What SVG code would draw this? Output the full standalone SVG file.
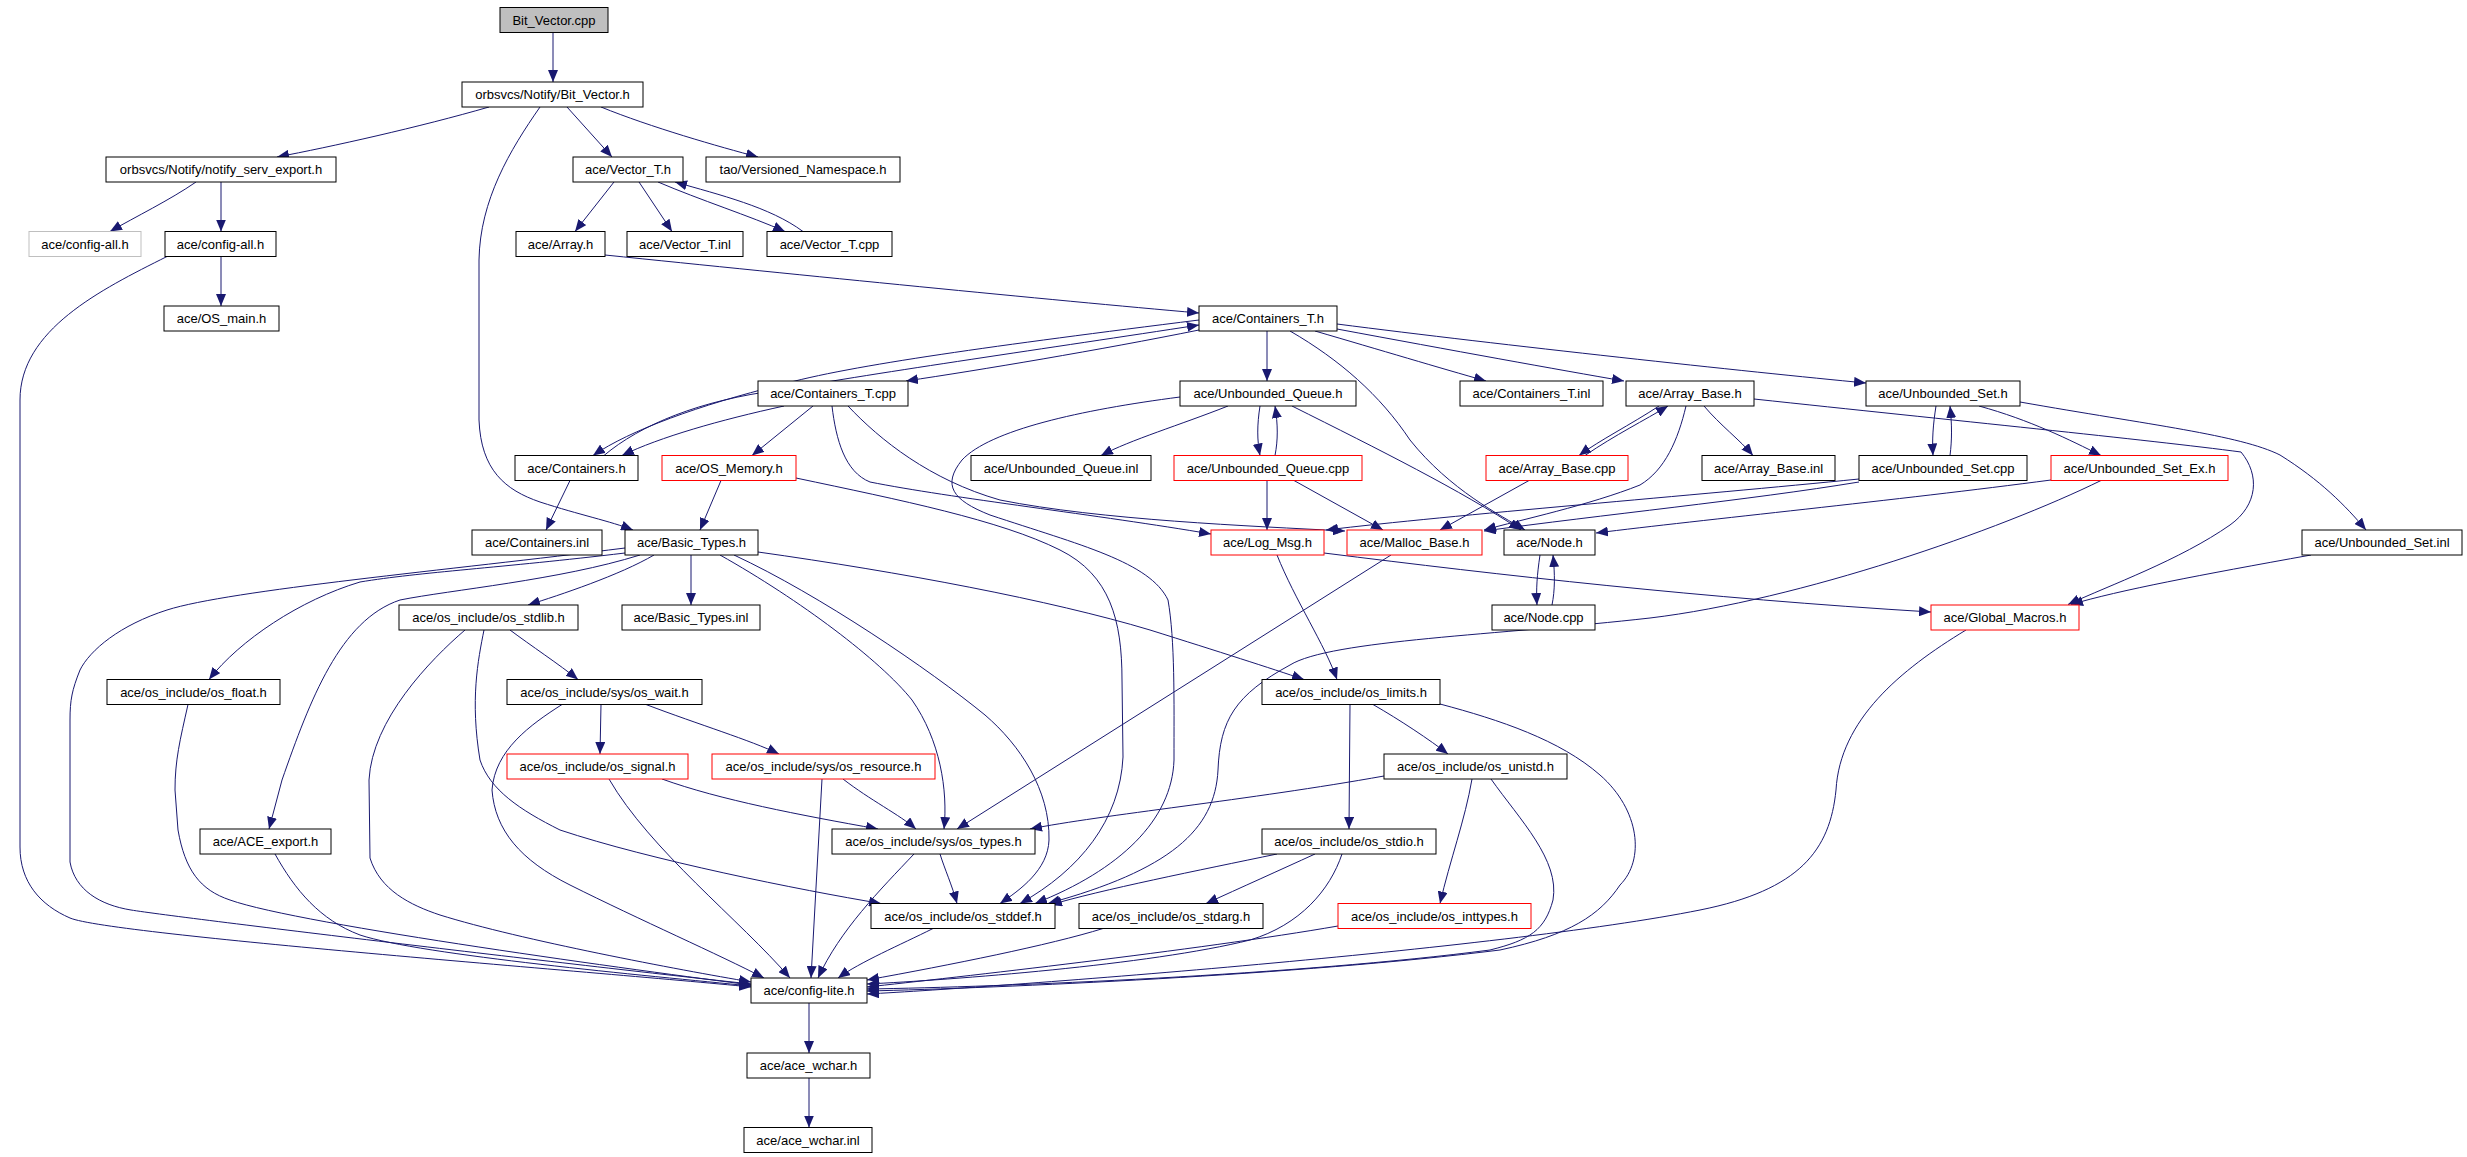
<svg xmlns="http://www.w3.org/2000/svg" width="2467" height="1157" viewBox="0 0 2467 1157">
<style>
.n rect{fill:#fff;stroke:#000;stroke-width:1}
.n.r rect{stroke:#f00}
.n.g rect{stroke:#bfbfbf}
.n.root rect{fill:#bfbfbf}
.n text{font-family:"Liberation Sans",Arial,sans-serif;font-size:13px;fill:#000;text-anchor:middle}
.e path{fill:none;stroke:#191970;stroke-width:1;marker-end:url(#a)}
</style>
<defs>
<marker id="a" markerUnits="userSpaceOnUse" markerWidth="12" markerHeight="10" refX="12" refY="5" orient="auto">
<path d="M0,0 L12,5 L0,10 z" fill="#191970"/>
</marker>
</defs>
<rect width="2467" height="1157" fill="#fff"/>
<g id="edges" class="e">
<path d="M553,32.5 L553,82"/>
<path d="M489,107 C420,127 330,147 277,157"/>
<path d="M567,107 L612,157"/>
<path d="M601,107 C650,127 720,147 758,157"/>
<path d="M540,107 C510,150 480,200 479,260 L479,420 C481,470 505,490 540,502 C580,515 610,521 633,530"/>
<path d="M196,182 C170,200 135,217 110,231.5"/>
<path d="M221,182 L221,231.5"/>
<path d="M221,256.5 L221,306"/>
<path d="M167,256.5 C100,290 20,330 20,400 L20,847 C20,882 40,905 70,918 C110,935 600,972 751,987"/>
<path d="M614,182 L575,231.5"/>
<path d="M639,182 L672,231.5"/>
<path d="M658,182 C700,200 750,216 785,231.5"/>
<path d="M803,231.5 C770,207 720,195 675,182"/>
<path d="M605,255 C800,275 1050,300 1199,313"/>
<path d="M1199,330 C1100,350 980,370 906,381"/>
<path d="M1267,331 L1267,381"/>
<path d="M1290,331 C1340,360 1380,395 1410,440 C1450,490 1500,515 1525,530"/>
<path d="M1315,331 C1380,350 1440,368 1486,381"/>
<path d="M1337,329 C1450,350 1560,370 1624,381"/>
<path d="M1337,324 C1500,345 1750,372 1866,383"/>
<path d="M1199,320 C1000,345 850,365 780,385 C700,405 630,430 593,455.5"/>
<path d="M604,455.5 C640,425 700,400 780,390 C880,372 1050,348 1199,325"/>
<path d="M784,406 C720,420 660,437 622,455.5"/>
<path d="M813,406 L752,455.5"/>
<path d="M832,406 C836,440 845,472 870,482 C950,498 1100,515 1211,534"/>
<path d="M848,406 C880,440 930,480 1000,500 C1100,520 1250,526 1345,531"/>
<path d="M721,480.5 L700,530"/>
<path d="M796,478 C900,500 1000,520 1060,550 C1110,575 1122,620 1122,680 L1123,757 C1120,820 1080,870 1020,903.5"/>
<path d="M570,480.5 L546,530"/>
<path d="M1228,406 C1180,425 1130,440 1101,455.5"/>
<path d="M1260,406 C1257,425 1257,440 1260,455.5"/>
<path d="M1275,455.5 C1278,440 1278,425 1275,406"/>
<path d="M1292,406 C1380,450 1460,490 1521,530"/>
<path d="M1180,397 C1080,410 990,430 962,460 C942,485 952,500 990,515 C1080,545 1150,562 1168,600 C1175,640 1174,700 1174,760 C1172,820 1120,870 1035,903.5"/>
<path d="M1267,480.5 L1267,530"/>
<path d="M1294,480.5 L1383,530"/>
<path d="M1659,406 C1630,425 1600,440 1579,455.5"/>
<path d="M1585,455.5 C1615,435 1645,420 1668,406"/>
<path d="M1704,406 C1720,425 1740,440 1753,455.5"/>
<path d="M1686,406 C1678,440 1665,470 1640,485 C1590,505 1520,520 1484,530"/>
<path d="M1754,399 C1950,420 2150,440 2241,452 C2260,475 2258,505 2230,525 C2180,560 2110,585 2068,604.5"/>
<path d="M1529,480.5 L1440,530"/>
<path d="M1936,406 C1933,425 1932,440 1933,455.5"/>
<path d="M1950,455.5 C1952,440 1952,425 1950,406"/>
<path d="M1979,406 C2030,420 2070,440 2101,455.5"/>
<path d="M2020,402 C2150,425 2240,435 2280,455 C2320,480 2345,505 2366,530"/>
<path d="M2311,555 C2200,575 2120,590 2071,604.5"/>
<path d="M1859,479 C1700,495 1450,515 1326,530"/>
<path d="M1859,482 C1750,500 1600,515 1484,531"/>
<path d="M2051,480 C1900,500 1700,520 1596,533"/>
<path d="M2101,480.5 C2000,530 1800,600 1650,618 C1500,635 1330,640 1290,665 C1235,695 1220,720 1218,770 C1215,830 1170,870 1048,903.5"/>
<path d="M1540,555 C1537,575 1536,590 1537,605"/>
<path d="M1552,605 C1555,590 1555,575 1553,555"/>
<path d="M1277,555 C1295,600 1325,645 1337,679.5"/>
<path d="M1324,553 C1500,575 1700,598 1931,612"/>
<path d="M1391,555 L957,829"/>
<path d="M691,555 L691,605"/>
<path d="M654,555 C620,575 560,595 528,605"/>
<path d="M758,552 C900,572 1050,600 1150,630 C1220,652 1270,668 1304,679.5"/>
<path d="M720,555 C800,600 880,660 912,700 C940,740 948,790 944,829"/>
<path d="M734,555 C820,595 930,670 985,715 C1020,745 1050,790 1049,840 C1048,870 1020,890 1000,903.5"/>
<path d="M625,548 C450,570 230,590 167,610 C120,625 90,650 80,670 C72,690 70,700 70,720 L70,862 C75,890 100,905 131,910 C180,918 600,968 751,984"/>
<path d="M625,553 C500,568 420,572 360,582 C300,600 240,640 209,679.5"/>
<path d="M640,555 C560,580 450,590 400,600 C340,620 310,700 282,780 L269,829"/>
<path d="M188,704.5 C180,740 175,760 175,790 L178,830 C185,870 200,890 230,900 C300,925 650,972 751,985"/>
<path d="M275,854 C295,890 320,920 360,935 C420,955 650,976 751,986"/>
<path d="M465,630 C430,660 372,720 369,780 L370,858 C380,890 410,905 440,915 C520,940 680,970 751,982"/>
<path d="M484,630 C478,660 470,700 480,760 C490,790 520,810 560,830 C650,860 800,890 881,903.5"/>
<path d="M510,630 C530,645 560,665 578,679.5"/>
<path d="M601,704.5 L600,754"/>
<path d="M646,704.5 C700,725 750,740 779,754"/>
<path d="M562,704.5 C530,725 495,750 492,790 C495,830 520,860 570,885 C640,920 720,955 764,978"/>
<path d="M662,779 C720,800 800,815 878,829"/>
<path d="M609,779 C650,850 740,920 790,978"/>
<path d="M843,779 C870,800 900,815 916,829"/>
<path d="M822,779 L811,978"/>
<path d="M914,854 C880,890 840,930 818,978"/>
<path d="M940,854 C945,870 952,885 957,903.5"/>
<path d="M933,928.5 C900,945 860,962 838,978"/>
<path d="M1103,928.5 C1050,945 950,965 867,980"/>
<path d="M1277,854 C1200,870 1100,890 1050,905"/>
<path d="M1315,854 C1280,870 1240,888 1206,903.5"/>
<path d="M1342,854 C1330,890 1300,925 1250,940 C1150,965 950,980 867,984"/>
<path d="M1338,926 C1200,950 950,978 867,987"/>
<path d="M1384,776 C1250,800 1100,815 1030,829"/>
<path d="M1472,779 C1465,820 1450,860 1440,903.5"/>
<path d="M1491,779 C1520,820 1560,860 1553,900 C1545,930 1530,940 1490,950 C1300,975 1000,987 867,989"/>
<path d="M1350,704.5 L1349,829"/>
<path d="M1373,704.5 C1400,720 1430,740 1448,754"/>
<path d="M1440,704 C1500,720 1560,740 1600,775 C1640,810 1645,860 1620,885 C1600,915 1570,935 1500,950 C1300,975 1000,988 867,991"/>
<path d="M1966,630 C1900,670 1840,720 1836,790 C1830,850 1800,890 1700,910 C1500,950 1000,987 867,994"/>
<path d="M809,1003 L809,1053"/>
<path d="M809,1078 L809,1127.5"/>
</g>
<g id="n_Bit_Vector_cpp" class="n root"><rect x="500" y="7.5" width="108" height="25"/><text x="554" y="24.5">Bit_Vector.cpp</text></g>
<g id="n_Bit_Vector_h" class="n"><rect x="462" y="82" width="181" height="25"/><text x="552.5" y="99">orbsvcs/Notify/Bit_Vector.h</text></g>
<g id="n_notify_serv_export_h" class="n"><rect x="106" y="157" width="230" height="25"/><text x="221" y="174">orbsvcs/Notify/notify_serv_export.h</text></g>
<g id="n_Vector_T_h" class="n"><rect x="573" y="157" width="110" height="25"/><text x="628" y="174">ace/Vector_T.h</text></g>
<g id="n_Versioned_Namespace_h" class="n"><rect x="706" y="157" width="194" height="25"/><text x="803" y="174">tao/Versioned_Namespace.h</text></g>
<g id="n_config_all_h_ext" class="n g"><rect x="29" y="231.5" width="112" height="25"/><text x="85" y="248.5">ace/config-all.h</text></g>
<g id="n_config_all_h" class="n"><rect x="165" y="231.5" width="111" height="25"/><text x="220.5" y="248.5">ace/config-all.h</text></g>
<g id="n_Array_h" class="n"><rect x="516" y="231.5" width="89" height="25"/><text x="560.5" y="248.5">ace/Array.h</text></g>
<g id="n_Vector_T_inl" class="n"><rect x="627" y="231.5" width="116" height="25"/><text x="685" y="248.5">ace/Vector_T.inl</text></g>
<g id="n_Vector_T_cpp" class="n"><rect x="767" y="231.5" width="125" height="25"/><text x="829.5" y="248.5">ace/Vector_T.cpp</text></g>
<g id="n_OS_main_h" class="n"><rect x="164" y="306" width="115" height="25"/><text x="221.5" y="323">ace/OS_main.h</text></g>
<g id="n_Containers_T_h" class="n"><rect x="1199" y="306" width="138" height="25"/><text x="1268" y="323">ace/Containers_T.h</text></g>
<g id="n_Containers_T_cpp" class="n"><rect x="758" y="381" width="150" height="25"/><text x="833" y="398">ace/Containers_T.cpp</text></g>
<g id="n_Unbounded_Queue_h" class="n"><rect x="1180" y="381" width="176" height="25"/><text x="1268" y="398">ace/Unbounded_Queue.h</text></g>
<g id="n_Containers_T_inl" class="n"><rect x="1460" y="381" width="143" height="25"/><text x="1531.5" y="398">ace/Containers_T.inl</text></g>
<g id="n_Array_Base_h" class="n"><rect x="1626" y="381" width="128" height="25"/><text x="1690" y="398">ace/Array_Base.h</text></g>
<g id="n_Unbounded_Set_h" class="n"><rect x="1866" y="381" width="154" height="25"/><text x="1943" y="398">ace/Unbounded_Set.h</text></g>
<g id="n_Containers_h" class="n"><rect x="515" y="455.5" width="123" height="25"/><text x="576.5" y="472.5">ace/Containers.h</text></g>
<g id="n_OS_Memory_h" class="n r"><rect x="662" y="455.5" width="134" height="25"/><text x="729" y="472.5">ace/OS_Memory.h</text></g>
<g id="n_Unbounded_Queue_inl" class="n"><rect x="971" y="455.5" width="180" height="25"/><text x="1061" y="472.5">ace/Unbounded_Queue.inl</text></g>
<g id="n_Unbounded_Queue_cpp" class="n r"><rect x="1174" y="455.5" width="188" height="25"/><text x="1268" y="472.5">ace/Unbounded_Queue.cpp</text></g>
<g id="n_Array_Base_cpp" class="n r"><rect x="1486" y="455.5" width="142" height="25"/><text x="1557" y="472.5">ace/Array_Base.cpp</text></g>
<g id="n_Array_Base_inl" class="n"><rect x="1702" y="455.5" width="133" height="25"/><text x="1768.5" y="472.5">ace/Array_Base.inl</text></g>
<g id="n_Unbounded_Set_cpp" class="n"><rect x="1859" y="455.5" width="168" height="25"/><text x="1943" y="472.5">ace/Unbounded_Set.cpp</text></g>
<g id="n_Unbounded_Set_Ex_h" class="n r"><rect x="2051" y="455.5" width="177" height="25"/><text x="2139.5" y="472.5">ace/Unbounded_Set_Ex.h</text></g>
<g id="n_Containers_inl" class="n"><rect x="472" y="530" width="130" height="25"/><text x="537" y="547">ace/Containers.inl</text></g>
<g id="n_Basic_Types_h" class="n"><rect x="625" y="530" width="133" height="25"/><text x="691.5" y="547">ace/Basic_Types.h</text></g>
<g id="n_Log_Msg_h" class="n r"><rect x="1211" y="530" width="113" height="25"/><text x="1267.5" y="547">ace/Log_Msg.h</text></g>
<g id="n_Malloc_Base_h" class="n r"><rect x="1347" y="530" width="135" height="25"/><text x="1414.5" y="547">ace/Malloc_Base.h</text></g>
<g id="n_Node_h" class="n"><rect x="1504" y="530" width="91" height="25"/><text x="1549.5" y="547">ace/Node.h</text></g>
<g id="n_Unbounded_Set_inl" class="n"><rect x="2302" y="530" width="160" height="25"/><text x="2382" y="547">ace/Unbounded_Set.inl</text></g>
<g id="n_os_stdlib_h" class="n"><rect x="399" y="605" width="179" height="25"/><text x="488.5" y="622">ace/os_include/os_stdlib.h</text></g>
<g id="n_Basic_Types_inl" class="n"><rect x="622" y="605" width="138" height="25"/><text x="691" y="622">ace/Basic_Types.inl</text></g>
<g id="n_Node_cpp" class="n"><rect x="1492" y="605" width="103" height="25"/><text x="1543.5" y="622">ace/Node.cpp</text></g>
<g id="n_Global_Macros_h" class="n r"><rect x="1931" y="605" width="148" height="25"/><text x="2005" y="622">ace/Global_Macros.h</text></g>
<g id="n_os_float_h" class="n"><rect x="107" y="679.5" width="173" height="25"/><text x="193.5" y="696.5">ace/os_include/os_float.h</text></g>
<g id="n_os_wait_h" class="n"><rect x="507" y="679.5" width="195" height="25"/><text x="604.5" y="696.5">ace/os_include/sys/os_wait.h</text></g>
<g id="n_os_limits_h" class="n"><rect x="1262" y="679.5" width="178" height="25"/><text x="1351" y="696.5">ace/os_include/os_limits.h</text></g>
<g id="n_os_signal_h" class="n r"><rect x="507" y="754" width="181" height="25"/><text x="597.5" y="771">ace/os_include/os_signal.h</text></g>
<g id="n_os_resource_h" class="n r"><rect x="712" y="754" width="223" height="25"/><text x="823.5" y="771">ace/os_include/sys/os_resource.h</text></g>
<g id="n_os_unistd_h" class="n"><rect x="1384" y="754" width="183" height="25"/><text x="1475.5" y="771">ace/os_include/os_unistd.h</text></g>
<g id="n_ACE_export_h" class="n"><rect x="200" y="829" width="131" height="25"/><text x="265.5" y="846">ace/ACE_export.h</text></g>
<g id="n_os_types_h" class="n"><rect x="832" y="829" width="203" height="25"/><text x="933.5" y="846">ace/os_include/sys/os_types.h</text></g>
<g id="n_os_stdio_h" class="n"><rect x="1262" y="829" width="174" height="25"/><text x="1349" y="846">ace/os_include/os_stdio.h</text></g>
<g id="n_os_stddef_h" class="n"><rect x="871" y="903.5" width="184" height="25"/><text x="963" y="920.5">ace/os_include/os_stddef.h</text></g>
<g id="n_os_stdarg_h" class="n"><rect x="1079" y="903.5" width="184" height="25"/><text x="1171" y="920.5">ace/os_include/os_stdarg.h</text></g>
<g id="n_os_inttypes_h" class="n r"><rect x="1338" y="903.5" width="193" height="25"/><text x="1434.5" y="920.5">ace/os_include/os_inttypes.h</text></g>
<g id="n_config_lite_h" class="n"><rect x="751" y="978" width="116" height="25"/><text x="809" y="995">ace/config-lite.h</text></g>
<g id="n_ace_wchar_h" class="n"><rect x="747" y="1053" width="123" height="25"/><text x="808.5" y="1070">ace/ace_wchar.h</text></g>
<g id="n_ace_wchar_inl" class="n"><rect x="744" y="1127.5" width="128" height="25"/><text x="808" y="1144.5">ace/ace_wchar.inl</text></g>
</svg>
